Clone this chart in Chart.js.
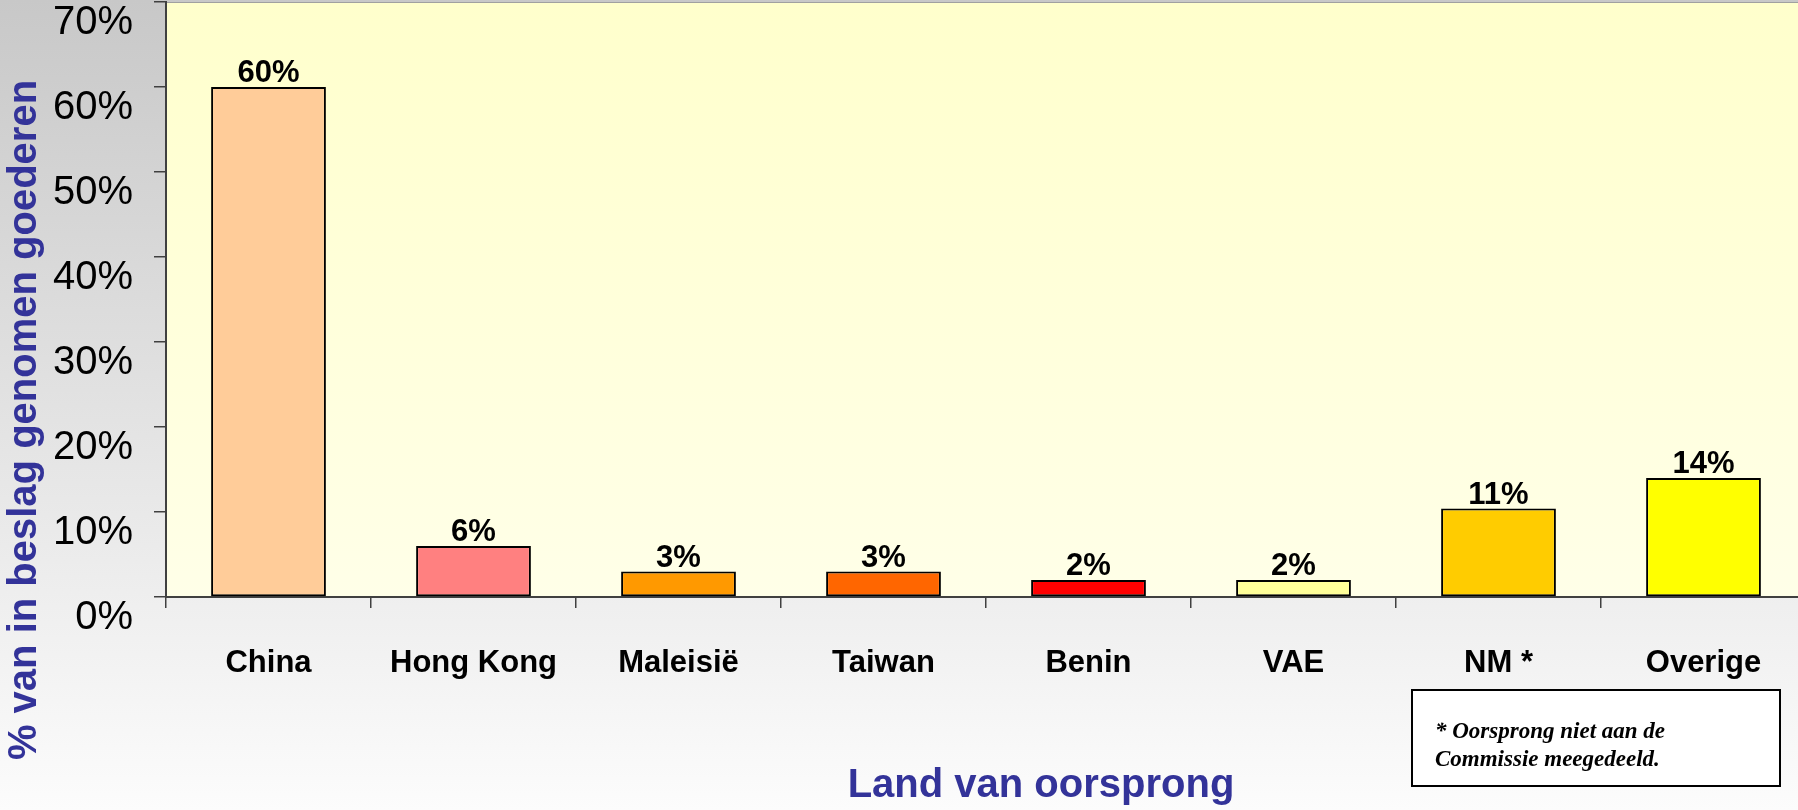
<!DOCTYPE html>
<html>
<head>
<meta charset="utf-8">
<script src="https://cdn.jsdelivr.net/npm/chart.js@4/dist/chart.umd.min.js"></script>
<style>
  html, body { margin: 0; padding: 0; overflow: hidden; background: #fafafa; }
  canvas { display: block; }
</style>
</head>
<body>
<canvas id="grafiek" width="1812" height="810"></canvas>
<script>
// gegevens
const landen = ["China", "Hong Kong", "Maleisië", "Taiwan", "Benin", "VAE", "NM *", "Overige"];
const percentages = [60, 6, 3, 3, 2, 2, 10.4, 14];
const waardeLabels = ["60%", "6%", "3%", "3%", "2%", "2%", "11%", "14%"];
const balkKleuren = ["#FFCC99", "#FF8080", "#FF9900", "#FF6600", "#FF0000", "#FFFF99", "#FFCC00", "#FFFF00"];
const yTitel = "% van in beslag genomen goederen";
const xTitel = "Land van oorsprong";
const voetnoot = ["* Oorsprong niet aan de", "Commissie meegedeeld."];

const sans = '"Liberation Sans", Arial, sans-serif';
Chart.defaults.font.family = sans;
Chart.defaults.color = "#000";

const achtergrond = {
    id: "achtergrond",
    beforeDraw(chart) {
        const {ctx, chartArea, width, height} = chart;
        ctx.save();
        let g = ctx.createLinearGradient(0, 0, 0, height);
        g.addColorStop(0, "#C8C8C8");
        g.addColorStop(1, "#FCFCFC");
        ctx.fillStyle = g;
        ctx.fillRect(0, 0, width, height);

        g = ctx.createLinearGradient(0, chartArea.top, 0, chartArea.bottom);
        g.addColorStop(0, "#FFFFCC");
        g.addColorStop(1, "#FFFFE8");
        ctx.fillStyle = g;
        ctx.fillRect(chartArea.left, chartArea.top, chartArea.right - chartArea.left, chartArea.bottom - chartArea.top);

        ctx.strokeStyle = "#A0A0A0";
        ctx.lineWidth = 1;
        ctx.beginPath();
        ctx.moveTo(chartArea.left, chartArea.top + 0.5);
        ctx.lineTo(chartArea.right, chartArea.top + 0.5);
        ctx.stroke();
        ctx.restore();
    }
};

const teksten = {
    id: "teksten",
    afterDraw(chart) {
        const {ctx} = chart;
        ctx.save();

        // waarden boven de balken
        ctx.font = "bold 31px " + sans;
        ctx.fillStyle = "#000";
        ctx.textAlign = "center";
        ctx.textBaseline = "alphabetic";
        chart.getDatasetMeta(0).data.forEach((balk, i) => {
            ctx.fillText(waardeLabels[i], balk.x, balk.y - 5);
        });

        // astitels
        ctx.font = "bold 40px " + sans;
        ctx.fillStyle = "#333399";
        ctx.fillText(xTitel, 1041, 797);

        ctx.save();
        ctx.translate(25, 420);
        ctx.rotate(-Math.PI / 2);
        ctx.textBaseline = "middle";
        ctx.fillText(yTitel, 0, 0);
        ctx.restore();

        // voetnoot
        ctx.fillStyle = "#FFFFFF";
        ctx.fillRect(1412, 690, 368, 96);
        ctx.strokeStyle = "#000";
        ctx.lineWidth = 2;
        ctx.strokeRect(1412, 690, 368, 96);
        ctx.fillStyle = "#000";
        ctx.textAlign = "left";
        ctx.font = 'italic bold 23px "Liberation Serif", "Times New Roman", serif';
        ctx.fillText(voetnoot[0], 1435, 738);
        ctx.fillText(voetnoot[1], 1435, 766);

        ctx.restore();
    }
};

new Chart(document.getElementById("grafiek"), {
    type: "bar",
    data: {
        labels: landen,
        datasets: [{
            data: percentages,
            backgroundColor: balkKleuren,
            borderColor: "#000",
            borderWidth: 2,
            borderSkipped: false,
            barPercentage: 0.56,
            categoryPercentage: 1
        }]
    },
    options: {
        responsive: false,
        animation: false,
        layout: { padding: { top: 2, right: 6, left: 0, bottom: 0 } },
        plugins: {
            legend: { display: false },
            tooltip: { enabled: false }
        },
        scales: {
            x: {
                grid: {
                    offset: true,
                    drawOnChartArea: false,
                    drawTicks: true,
                    tickLength: 11,
                    color: "#404040",
                    lineWidth: 1.5
                },
                border: { display: true, color: "#404040", width: 2 },
                ticks: {
                    font: { size: 31, weight: "bold" },
                    padding: 37,
                    maxRotation: 0,
                    autoSkip: false
                },
                afterFit(scale) {
                    scale.height = 213;
                    scale.paddingLeft = 0;
                    scale.paddingRight = 0;
                }
            },
            y: {
                min: 0,
                max: 70,
                grid: {
                    drawOnChartArea: false,
                    drawTicks: true,
                    tickLength: 12,
                    color: "#404040",
                    lineWidth: 1.5
                },
                border: { display: true, color: "#404040", width: 2 },
                ticks: {
                    stepSize: 10,
                    font: { size: 40 },
                    padding: 21,
                    labelOffset: 21,
                    callback: v => v + "%"
                },
                afterFit(scale) {
                    scale.width = 166;
                    scale.paddingTop = 0;
                    scale.paddingBottom = 0;
                }
            }
        }
    },
    plugins: [achtergrond, teksten]
});
</script>
</body>
</html>
